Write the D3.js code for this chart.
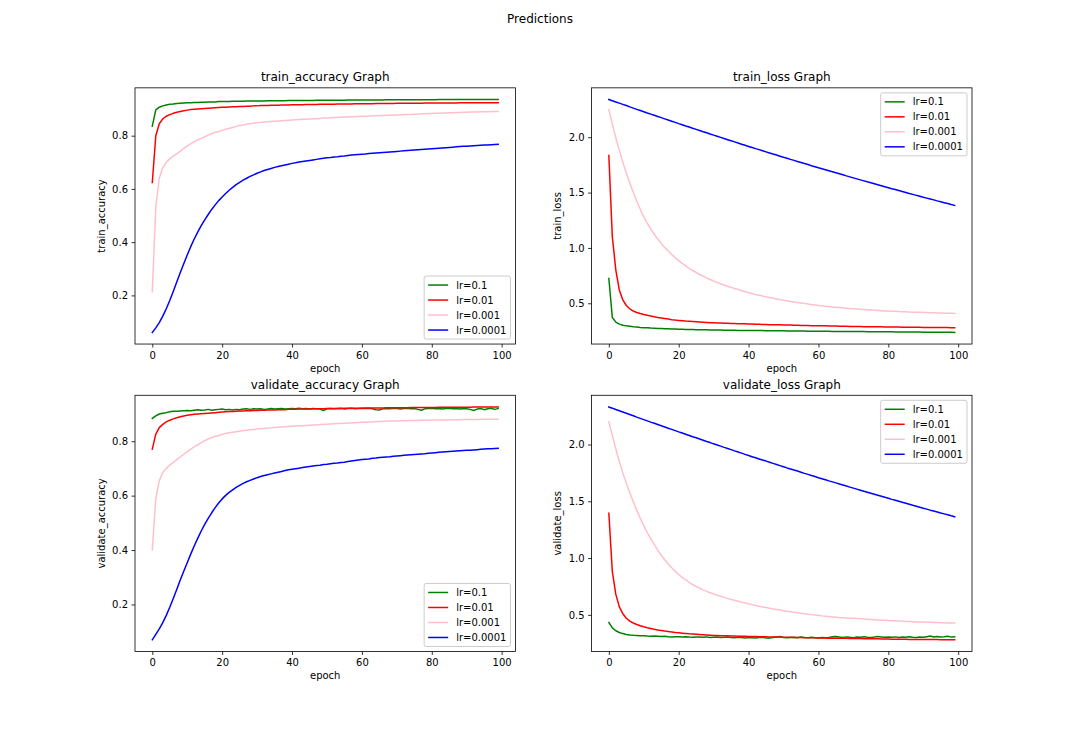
<!DOCTYPE html>
<html>
<head>
<meta charset="utf-8">
<script src="https://cdn.jsdelivr.net/npm/d3@7/dist/d3.min.js"></script>
<style>
  html, body { margin: 0; padding: 0; background: #ffffff; }
  svg { display: block; }
  text { font-family: "DejaVu Sans", sans-serif; fill: #000; }
</style>
</head>
<body>
<div id="chart"></div>
<script>
// ---------------- DATA ----------------
const figureTitle = "Predictions";
const seriesLabels = ["lr=0.1", "lr=0.01", "lr=0.001", "lr=0.0001"];
const xTicks = [0, 20, 40, 60, 80, 100];
const accTicks = [0.2, 0.4, 0.6, 0.8];
const lossTicks = [0.5, 1.0, 1.5, 2.0];
const epochs = d3.range(100);

// train_accuracy
const trainAcc01 = [0.836,0.897,0.907,0.912,0.915,0.918,0.919,0.921,0.922,0.923,0.924,
0.924,0.925,0.925,0.926,0.926,0.927,0.927,0.927,0.928,0.928,
0.928,0.928,0.929,0.929,0.929,0.929,0.930,0.930,0.930,0.930,
0.930,0.930,0.931,0.931,0.931,0.931,0.931,0.931,0.932,0.932,
0.932,0.932,0.932,0.932,0.932,0.932,0.933,0.933,0.933,0.933,
0.933,0.933,0.933,0.933,0.933,0.934,0.934,0.934,0.934,0.934,
0.934,0.934,0.934,0.934,0.934,0.934,0.935,0.935,0.935,0.935,
0.935,0.935,0.935,0.935,0.935,0.935,0.935,0.935,0.935,0.935,
0.935,0.936,0.936,0.936,0.936,0.936,0.936,0.936,0.936,0.936,
0.936,0.936,0.936,0.936,0.936,0.936,0.936,0.936,0.936];
const trainAcc001 = [0.624,0.800,0.845,0.863,0.873,0.879,0.884,0.888,0.891,0.894,0.896,
0.898,0.899,0.900,0.901,0.902,0.903,0.904,0.905,0.906,0.907,
0.907,0.908,0.909,0.909,0.910,0.910,0.911,0.911,0.912,0.912,
0.913,0.913,0.913,0.914,0.914,0.914,0.915,0.915,0.915,0.916,
0.916,0.916,0.916,0.917,0.917,0.917,0.917,0.918,0.918,0.918,
0.918,0.918,0.919,0.919,0.919,0.919,0.919,0.920,0.920,0.920,
0.920,0.920,0.920,0.921,0.921,0.921,0.921,0.921,0.921,0.922,
0.922,0.922,0.922,0.922,0.922,0.922,0.922,0.923,0.923,0.923,
0.923,0.923,0.923,0.923,0.923,0.923,0.923,0.924,0.924,0.924,
0.924,0.924,0.924,0.924,0.924,0.924,0.924,0.924,0.924];
const trainAcc0001 = [0.214,0.532,0.640,0.680,0.700,0.713,0.723,0.732,0.742,0.752,0.761,
0.769,0.777,0.784,0.790,0.796,0.802,0.807,0.812,0.816,0.820,
0.824,0.828,0.831,0.835,0.838,0.840,0.843,0.845,0.847,0.849,
0.850,0.851,0.852,0.853,0.854,0.855,0.856,0.857,0.858,0.859,
0.860,0.861,0.862,0.862,0.863,0.864,0.864,0.865,0.866,0.866,
0.867,0.868,0.868,0.869,0.870,0.870,0.871,0.871,0.872,0.873,
0.873,0.874,0.874,0.875,0.876,0.876,0.877,0.877,0.878,0.878,
0.879,0.879,0.880,0.880,0.881,0.881,0.882,0.882,0.883,0.883,
0.884,0.884,0.885,0.885,0.886,0.886,0.887,0.887,0.888,0.888,
0.889,0.889,0.889,0.890,0.890,0.890,0.891,0.891,0.891];
const trainAcc00001 = [0.061,0.078,0.098,0.122,0.150,0.181,0.215,0.250,0.285,0.319,0.352,
0.383,0.412,0.438,0.462,0.484,0.504,0.523,0.540,0.556,0.570,
0.583,0.595,0.606,0.616,0.625,0.633,0.640,0.647,0.653,0.659,
0.664,0.669,0.673,0.677,0.681,0.684,0.687,0.690,0.693,0.696,
0.698,0.701,0.703,0.705,0.707,0.709,0.711,0.713,0.715,0.717,
0.718,0.720,0.721,0.723,0.724,0.726,0.727,0.728,0.729,0.730,
0.731,0.733,0.734,0.735,0.736,0.737,0.738,0.739,0.740,0.741,
0.742,0.743,0.744,0.745,0.746,0.747,0.748,0.749,0.750,0.751,
0.752,0.753,0.754,0.755,0.756,0.757,0.758,0.759,0.760,0.760,
0.761,0.762,0.763,0.764,0.765,0.765,0.766,0.767,0.768];

// train_loss
const trainLoss01 = [0.724,0.372,0.330,0.312,0.302,0.296,0.292,0.288,0.285,0.282,0.280,
0.278,0.276,0.275,0.273,0.272,0.270,0.269,0.268,0.267,0.266,
0.265,0.264,0.263,0.263,0.262,0.261,0.261,0.260,0.259,0.259,
0.258,0.258,0.257,0.257,0.256,0.256,0.255,0.255,0.255,0.254,
0.254,0.253,0.253,0.253,0.252,0.252,0.252,0.251,0.251,0.251,
0.250,0.250,0.250,0.249,0.249,0.249,0.248,0.248,0.248,0.247,
0.247,0.247,0.247,0.246,0.246,0.246,0.245,0.245,0.245,0.245,
0.244,0.244,0.244,0.243,0.243,0.243,0.243,0.242,0.242,0.242,
0.242,0.241,0.241,0.241,0.241,0.240,0.240,0.240,0.240,0.239,
0.239,0.239,0.239,0.239,0.238,0.238,0.238,0.238,0.237];
const trainLoss001 = [1.835,1.100,0.800,0.620,0.530,0.480,0.450,0.430,0.417,0.407,0.399,
0.392,0.385,0.378,0.372,0.367,0.362,0.357,0.352,0.348,0.345,
0.342,0.339,0.337,0.335,0.333,0.331,0.329,0.327,0.325,0.324,
0.322,0.321,0.320,0.319,0.318,0.317,0.316,0.315,0.314,0.313,
0.312,0.311,0.310,0.309,0.308,0.307,0.307,0.306,0.305,0.304,
0.303,0.303,0.302,0.301,0.300,0.300,0.299,0.298,0.298,0.297,
0.296,0.296,0.295,0.294,0.294,0.293,0.293,0.292,0.291,0.291,
0.290,0.290,0.289,0.289,0.288,0.288,0.287,0.287,0.286,0.286,
0.285,0.285,0.285,0.284,0.284,0.284,0.283,0.283,0.283,0.282,
0.282,0.282,0.282,0.281,0.281,0.281,0.281,0.280,0.280];
const trainLoss0001 = [2.250,2.118,1.995,1.881,1.775,1.677,1.586,1.501,1.422,1.349,1.281,
1.223,1.171,1.123,1.080,1.041,1.005,0.972,0.941,0.912,0.886,0.861,0.838,
0.816,0.796,0.778,0.760,0.744,0.729,0.715,0.701,0.689,0.677,0.665,
0.654,0.644,0.633,0.624,0.614,0.605,0.597,0.588,0.580,0.573,0.565,
0.558,0.552,0.545,0.539,0.533,0.527,0.522,0.517,0.512,0.507,0.502,
0.497,0.493,0.488,0.484,0.480,0.477,0.473,0.470,0.467,0.464,0.461,
0.458,0.455,0.452,0.450,0.448,0.445,0.443,0.441,0.439,0.437,0.435,
0.433,0.431,0.430,0.428,0.427,0.425,0.424,0.423,0.421,0.420,0.419,
0.418,0.417,0.416,0.415,0.414,0.413,0.412,0.411,0.410,0.409,0.408];
const trainLoss00001 = [2.341,2.330,2.319,2.308,2.297,2.286,2.274,2.263,2.252,2.241,2.230,
2.219,2.209,2.198,2.187,2.177,2.166,2.155,2.145,2.134,2.123,
2.113,2.102,2.092,2.081,2.071,2.061,2.050,2.040,2.029,2.019,
2.009,1.999,1.988,1.978,1.968,1.958,1.948,1.937,1.927,1.917,
1.907,1.897,1.888,1.878,1.868,1.858,1.848,1.839,1.829,1.819,
1.810,1.800,1.791,1.781,1.772,1.762,1.753,1.743,1.734,1.724,
1.715,1.706,1.697,1.688,1.679,1.670,1.661,1.651,1.642,1.633,
1.624,1.615,1.606,1.597,1.589,1.580,1.571,1.562,1.553,1.544,
1.535,1.527,1.518,1.510,1.501,1.492,1.484,1.475,1.467,1.458,
1.450,1.442,1.434,1.425,1.417,1.409,1.401,1.392,1.384];

// validate_accuracy
const valAcc01 = [0.884,0.893,0.900,0.903,0.905,0.908,0.910,0.910,0.911,0.912,0.913,
0.912,0.914,0.916,0.914,0.915,0.917,0.914,0.916,0.917,0.918,
0.916,0.917,0.915,0.917,0.916,0.918,0.919,0.917,0.919,0.918,
0.919,0.917,0.918,0.920,0.918,0.919,0.920,0.918,0.919,0.920,
0.919,0.921,0.919,0.920,0.918,0.920,0.919,0.918,0.913,0.919,
0.920,0.919,0.920,0.921,0.918,0.920,0.921,0.919,0.920,0.921,
0.920,0.921,0.919,0.916,0.915,0.919,0.920,0.919,0.921,0.920,
0.918,0.920,0.921,0.919,0.920,0.917,0.914,0.919,0.920,0.921,
0.919,0.920,0.918,0.920,0.921,0.919,0.920,0.918,0.920,0.919,
0.917,0.913,0.918,0.920,0.916,0.919,0.921,0.917,0.920];
const valAcc001 = [0.771,0.826,0.850,0.862,0.871,0.877,0.882,0.886,0.890,0.893,0.895,
0.897,0.899,0.900,0.901,0.902,0.903,0.904,0.905,0.906,0.907,
0.908,0.909,0.909,0.910,0.911,0.911,0.912,0.912,0.913,0.913,
0.914,0.914,0.915,0.915,0.915,0.916,0.916,0.916,0.917,0.917,
0.917,0.918,0.918,0.918,0.918,0.919,0.919,0.919,0.919,0.920,
0.920,0.920,0.920,0.920,0.921,0.921,0.921,0.921,0.921,0.921,
0.922,0.922,0.922,0.922,0.922,0.922,0.923,0.923,0.923,0.923,
0.923,0.923,0.923,0.924,0.924,0.924,0.924,0.924,0.924,0.924,
0.924,0.925,0.925,0.925,0.925,0.925,0.925,0.925,0.925,0.925,
0.925,0.926,0.926,0.926,0.926,0.926,0.926,0.926,0.926];
const valAcc0001 = [0.400,0.590,0.655,0.685,0.700,0.712,0.722,0.732,0.742,0.752,0.762,
0.771,0.779,0.787,0.795,0.802,0.808,0.813,0.817,0.821,0.825,
0.828,0.831,0.833,0.835,0.837,0.839,0.840,0.842,0.843,0.845,
0.846,0.847,0.848,0.849,0.850,0.851,0.852,0.853,0.854,0.855,
0.856,0.857,0.857,0.858,0.859,0.860,0.860,0.861,0.862,0.862,
0.863,0.864,0.865,0.865,0.866,0.867,0.867,0.868,0.869,0.870,
0.870,0.871,0.871,0.872,0.872,0.873,0.873,0.874,0.874,0.874,
0.875,0.875,0.875,0.876,0.876,0.876,0.877,0.877,0.877,0.877,
0.878,0.878,0.878,0.878,0.879,0.879,0.879,0.879,0.880,0.880,
0.880,0.880,0.880,0.881,0.881,0.881,0.881,0.881,0.881];
const valAcc00001 = [0.070,0.090,0.110,0.133,0.160,0.190,0.222,0.255,0.290,0.322,0.353,
0.385,0.415,0.443,0.470,0.494,0.516,0.537,0.556,0.573,0.588,
0.601,0.612,0.621,0.630,0.638,0.645,0.651,0.656,0.661,0.666,
0.670,0.674,0.677,0.680,0.683,0.686,0.689,0.692,0.695,0.697,
0.699,0.701,0.703,0.705,0.707,0.709,0.711,0.712,0.714,0.715,
0.717,0.719,0.720,0.722,0.723,0.725,0.727,0.729,0.731,0.733,
0.734,0.735,0.737,0.738,0.740,0.741,0.742,0.743,0.745,0.746,
0.747,0.748,0.749,0.750,0.751,0.752,0.753,0.754,0.756,0.757,
0.758,0.759,0.760,0.761,0.762,0.763,0.764,0.765,0.766,0.767,
0.767,0.768,0.769,0.770,0.771,0.772,0.772,0.773,0.774];

// validate_loss
const valLoss01 = [0.433,0.385,0.360,0.345,0.335,0.327,0.322,0.320,0.319,0.317,0.315,
0.313,0.312,0.314,0.312,0.309,0.311,0.308,0.306,0.308,0.307,
0.305,0.308,0.305,0.303,0.306,0.304,0.302,0.306,0.301,0.303,
0.304,0.300,0.302,0.305,0.300,0.298,0.302,0.300,0.297,0.301,
0.299,0.296,0.300,0.302,0.297,0.295,0.300,0.305,0.309,0.300,
0.298,0.301,0.303,0.299,0.306,0.300,0.298,0.302,0.299,0.297,
0.300,0.298,0.301,0.307,0.309,0.304,0.301,0.306,0.302,0.299,
0.305,0.302,0.307,0.303,0.300,0.304,0.310,0.306,0.302,0.305,
0.303,0.306,0.301,0.305,0.302,0.307,0.303,0.300,0.305,0.303,
0.308,0.313,0.305,0.309,0.304,0.307,0.311,0.304,0.306];
const valLoss001 = [1.395,0.880,0.680,0.570,0.510,0.470,0.445,0.428,0.415,0.404,0.395,
0.387,0.380,0.373,0.367,0.362,0.357,0.353,0.349,0.345,0.342,
0.339,0.336,0.333,0.331,0.329,0.327,0.325,0.323,0.321,0.319,
0.318,0.317,0.316,0.315,0.314,0.313,0.312,0.311,0.311,0.310,
0.309,0.309,0.308,0.307,0.307,0.306,0.305,0.305,0.304,0.303,
0.303,0.302,0.301,0.301,0.300,0.299,0.299,0.298,0.298,0.297,
0.296,0.296,0.295,0.295,0.294,0.294,0.293,0.293,0.292,0.292,
0.291,0.291,0.290,0.290,0.289,0.289,0.289,0.288,0.288,0.287,
0.286,0.286,0.285,0.285,0.285,0.284,0.284,0.284,0.283,0.283,
0.283,0.282,0.282,0.282,0.281,0.281,0.281,0.280,0.280];
const valLoss0001 = [2.200,2.080,1.960,1.850,1.750,1.660,1.575,1.495,1.420,1.350,1.285,
1.225,1.170,1.120,1.070,1.025,0.985,0.948,0.914,0.883,0.855,
0.830,0.807,0.786,0.767,0.750,0.734,0.720,0.707,0.695,0.684,
0.674,0.664,0.654,0.645,0.636,0.628,0.620,0.612,0.604,0.597,
0.590,0.583,0.576,0.570,0.564,0.558,0.552,0.547,0.542,0.537,
0.532,0.527,0.522,0.518,0.514,0.510,0.506,0.502,0.498,0.495,
0.491,0.488,0.485,0.482,0.480,0.477,0.475,0.473,0.471,0.469,
0.467,0.465,0.463,0.461,0.459,0.457,0.455,0.453,0.452,0.450,
0.448,0.447,0.445,0.444,0.442,0.441,0.440,0.438,0.437,0.436,
0.435,0.434,0.433,0.432,0.431,0.430,0.429,0.429,0.428];
const valLoss00001 = [2.331,2.320,2.308,2.297,2.286,2.275,2.264,2.253,2.241,2.230,2.219,
2.208,2.197,2.187,2.176,2.165,2.154,2.143,2.133,2.122,2.111,
2.101,2.090,2.080,2.069,2.059,2.048,2.038,2.027,2.017,2.006,
1.996,1.986,1.975,1.965,1.955,1.944,1.934,1.924,1.913,1.903,
1.893,1.883,1.873,1.863,1.854,1.844,1.834,1.824,1.814,1.804,
1.794,1.785,1.775,1.766,1.756,1.746,1.737,1.727,1.718,1.708,
1.699,1.690,1.680,1.671,1.662,1.653,1.644,1.634,1.625,1.616,
1.607,1.598,1.589,1.580,1.571,1.562,1.553,1.544,1.535,1.526,
1.517,1.509,1.500,1.491,1.483,1.474,1.465,1.457,1.448,1.439,
1.431,1.422,1.414,1.406,1.397,1.389,1.381,1.372,1.364];

// ---------------- STYLE / LAYOUT ----------------
const colors = ["#008000", "#ff0000", "#ffc0cb", "#0000ff"];
const W = 1080, H = 732;
const figL = 0.125 * W, figR = 0.9 * W, figT = (1 - 0.88) * H, figB = (1 - 0.11) * H;
const axW = (figR - figL) / 2.2, axH = (figB - figT) / 2.2;
const colX = [figL, figL + axW * 1.2];
const rowY = [figT, figT + axH * 1.2];

const panels = [
  { name: "train_accuracy", series: [trainAcc01, trainAcc001, trainAcc0001, trainAcc00001], ticks: accTicks, col: 0, row: 0, legend: "lower right" },
  { name: "train_loss", series: [trainLoss01, trainLoss001, trainLoss0001, trainLoss00001], ticks: lossTicks, col: 1, row: 0, legend: "upper right" },
  { name: "validate_accuracy", series: [valAcc01, valAcc001, valAcc0001, valAcc00001], ticks: accTicks, col: 0, row: 1, legend: "lower right" },
  { name: "validate_loss", series: [valLoss01, valLoss001, valLoss0001, valLoss00001], ticks: lossTicks, col: 1, row: 1, legend: "upper right" }
];

const svg = d3.select("#chart").append("svg")
  .attr("width", W).attr("height", H)
  .attr("viewBox", `0 0 ${W} ${H}`);
svg.append("rect").attr("width", W).attr("height", H).attr("fill", "#ffffff");

svg.append("text")
  .attr("x", W / 2).attr("y", 23)
  .attr("text-anchor", "middle")
  .attr("font-size", 12)
  .text(figureTitle);

panels.forEach((p, pi) => {
  const x0 = colX[p.col], y0 = rowY[p.row];
  const g = svg.append("g").attr("transform", `translate(${x0},${y0})`);

  const xMin = d3.min(epochs), xMax = d3.max(epochs);
  const xPad = (xMax - xMin) * 0.05;
  const x = d3.scaleLinear().domain([xMin - xPad, xMax + xPad]).range([0, axW]);

  const all = p.series.flat();
  const yMin = d3.min(all), yMax = d3.max(all);
  const yPad = (yMax - yMin) * 0.05;
  const y = d3.scaleLinear().domain([yMin - yPad, yMax + yPad]).range([axH, 0]);

  const clipId = "clip" + pi;
  g.append("clipPath").attr("id", clipId)
    .append("rect").attr("width", axW).attr("height", axH);

  const line = d3.line().x((d, i) => x(epochs[i])).y(d => y(d));
  const lines = g.append("g").attr("clip-path", `url(#${clipId})`);
  p.series.forEach((s, si) => {
    lines.append("path")
      .datum(s)
      .attr("d", line)
      .attr("fill", "none")
      .attr("stroke", colors[si])
      .attr("stroke-width", 1.5)
      .attr("stroke-linejoin", "round")
      .attr("stroke-linecap", "square");
  });

  // axes
  const xAxis = g.append("g").attr("transform", `translate(0,${axH})`)
    .call(d3.axisBottom(x).tickValues(xTicks).tickFormat(d3.format("d")).tickSize(3.5).tickPadding(3.5));
  const yAxis = g.append("g")
    .call(d3.axisLeft(y).tickValues(p.ticks).tickFormat(d3.format(".1f")).tickSize(3.5).tickPadding(3.5));
  [xAxis, yAxis].forEach(a => {
    a.select(".domain").remove();
    a.attr("font-family", "DejaVu Sans, sans-serif").attr("font-size", 10);
    a.selectAll(".tick line").attr("stroke", "#000").attr("stroke-width", 0.8);
    a.selectAll(".tick text").attr("fill", "#000");
  });
  xAxis.selectAll(".tick text").attr("dy", "0.78em");

  // spines
  g.append("rect")
    .attr("width", axW).attr("height", axH)
    .attr("fill", "none").attr("stroke", "#000").attr("stroke-width", 0.8);

  // title & labels
  g.append("text")
    .attr("x", axW / 2).attr("y", -6.5)
    .attr("text-anchor", "middle").attr("font-size", 12)
    .text(p.name + " Graph");
  g.append("text")
    .attr("x", axW / 2).attr("y", axH + 27.7)
    .attr("text-anchor", "middle").attr("font-size", 10)
    .text("epoch");
  g.append("text")
    .attr("transform", `translate(-30.5,${axH / 2}) rotate(-90)`)
    .attr("text-anchor", "middle").attr("font-size", 10)
    .text(p.name);

  // legend
  const lgW = 86.3, lgH = 63, pad = 5;
  const lx = axW - pad - lgW;
  const ly = p.legend === "lower right" ? axH - pad - lgH : pad;
  const lg = g.append("g").attr("transform", `translate(${lx},${ly})`);
  lg.append("rect")
    .attr("width", lgW).attr("height", lgH)
    .attr("rx", 2).attr("ry", 2)
    .attr("fill", "#ffffff").attr("fill-opacity", 0.8)
    .attr("stroke", "#cccccc").attr("stroke-width", 1);
  seriesLabels.forEach((lab, si) => {
    const cy = 4 + 5 + si * 15;
    lg.append("line")
      .attr("x1", 4).attr("x2", 24).attr("y1", cy).attr("y2", cy)
      .attr("stroke", colors[si]).attr("stroke-width", 1.5);
    lg.append("text")
      .attr("x", 32).attr("y", cy + 3.6)
      .attr("font-size", 10)
      .text(lab);
  });
});
</script>
</body>
</html>
